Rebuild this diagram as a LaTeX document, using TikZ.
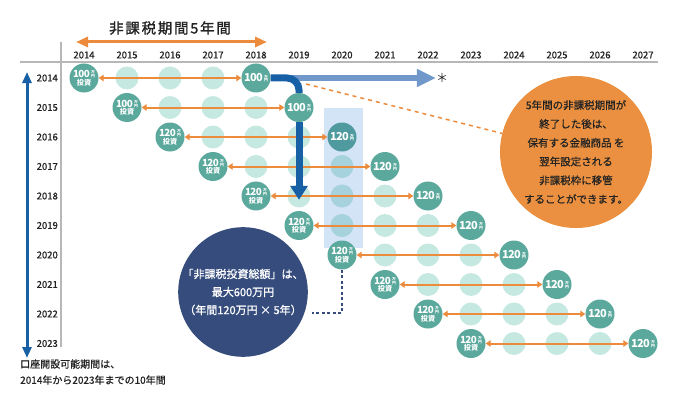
\documentclass[tikz,border=0pt]{standalone}
\usepackage{fontspec}
\setmainfont{Noto Sans CJK JP}
\usepackage{tikz}
\usetikzlibrary{arrows.meta}
\definecolor{tealdark}{RGB}{91,168,157}
\definecolor{teallight}{RGB}{197,232,224}
\definecolor{tintlight}{RGB}{166,210,222}
\definecolor{tintdark}{RGB}{78,154,158}
\definecolor{focusblue}{RGB}{211,228,247}
\definecolor{arroworange}{RGB}{237,139,61}
\definecolor{noteorange}{RGB}{234,144,64}
\definecolor{navyblue}{RGB}{53,76,124}
\definecolor{pathblue}{RGB}{24,96,166}
\definecolor{paleblue}{RGB}{112,152,202}
\definecolor{gridgray}{RGB}{183,183,183}
\definecolor{inkgray}{RGB}{35,35,35}

% stacked small units inside the coins
\newcommand{\stackc}[3][0pt]{\vbox{\offinterlineskip\halign{\hfil##\hfil\cr#2\cr\noalign{\kern#1}#3\cr}}}
\newcommand{\manyen}{{\fontsize{3.8}{3.8}\selectfont\stackc[.4pt]{万}{円}}}
\newcommand{\sumtxt}[1]{{\fontsize{11}{11}\selectfont\addfontfeature{LetterSpace=-6}#1}\kern1.4pt\manyen}
\newcommand{\buytxt}[1]{\stackc[1pt]{{\fontsize{9.8}{10}\selectfont\addfontfeature{LetterSpace=-6}#1}\kern1.4pt\manyen}{\fontsize{7.2}{7.2}\selectfont 投資}}

\tikzset{
  titletext/.style={font=\fontsize{14.5}{15}\selectfont\addfontfeature{LetterSpace=12,FakeBold=1.4}, text=inkgray},
  yearlabel/.style={font=\fontsize{9.5}{10}\selectfont\addfontfeature{FakeBold=0.8}, text=inkgray, inner sep=1pt},
  gridline/.style={draw=gridgray, line width=1.6pt},
  spanarrow/.style={draw=arroworange, line width=3pt, {Triangle[length=12pt,width=10pt]}-{Triangle[length=12pt,width=10pt]}},
  periodarrow/.style={draw=pathblue, line width=3pt, {Triangle[length=11pt,width=9pt]}-{Triangle[length=11pt,width=9pt]}},
  yeardot/.style={circle, inner sep=0pt, minimum size=23pt},
  coin/.style={circle, inner sep=0pt, minimum size=29pt, text=white, font=\bfseries},
  rowarrow/.style={draw=arroworange, line width=2pt, {Triangle[length=5pt,width=6.5pt]}-{Triangle[length=5pt,width=6.5pt]}},
  bluepath/.style={draw=pathblue, line width=7pt},
  palearrow/.style={draw=paleblue, line width=6pt, -{Triangle[length=19pt,width=17pt]}},
  notedash/.style={draw=arroworange, line width=1.5pt, dash pattern=on 4pt off 4pt},
  navydots/.style={draw=navyblue, line width=1.6pt, dash pattern=on 3pt off 2.5pt},
  notecircle/.style={circle, fill=noteorange, inner sep=0pt, minimum size=152pt, align=center, text=inkgray, font=\fontsize{10.5}{18.8}\selectfont\addfontfeature{FakeBold=0.6}},
  totalcircle/.style={circle, fill=navyblue, inner sep=0pt, minimum size=128pt, align=center, text=white, font=\fontsize{11}{18}\selectfont\addfontfeature{FakeBold=1}},
  notetext/.style={align=left, inner sep=0pt, text=inkgray, font=\fontsize{10}{16}\selectfont\addfontfeature{FakeBold=0.8}}
}

\begin{document}
\begin{tikzpicture}[x=1pt,y=-1pt]
\useasboundingbox (0,0) rectangle (680,404);

% Title over the five-year span
\node[titletext] (title) at (170,28) {非課税期間5年間};
\coordinate (spanL) at (76,42);
\coordinate (spanR) at (267,42);
\draw[spanarrow] (spanL) -- (spanR);

% Grid lines
\coordinate (hl) at (20,62);
\coordinate (hr) at (658,62);
\draw[gridline] (hl) -- (hr);
\coordinate (vt) at (61,42);
\coordinate (vb) at (61,347);
\draw[gridline] (vt) -- (vb);

% Year labels
\foreach \c in {0,...,13} {
  \node[yearlabel] (c\c) at (84+43*\c,55) {\the\numexpr2014+\c\relax};
}
\foreach \r in {0,...,9} {
  \node[yearlabel, anchor=east] (r\r) at (59,78+29.5*\r) {\the\numexpr2014+\r\relax};
}
\coordinate (at) at (27,72);
\coordinate (ab) at (27,358);
\draw[periodarrow] (at) -- (ab);

% Highlighted 2020 column
\fill[focusblue] (324,108) rectangle (363,248);

% One row per opening year
\foreach \r in {0,...,9} {
  \ifnum\r<2 \def\amt{100}\else\def\amt{120}\fi
  \foreach \k in {1,2,3} {
    \pgfmathtruncatemacro{\cc}{\r+\k}
    \ifnum\cc=6 \def\dotcol{tintlight}\else\def\dotcol{teallight}\fi
    \node[yeardot, fill=\dotcol] (l\r-\k) at (84+43*\cc,78+29.5*\r) {};
  }
  \ifnum\r=2 \def\endcol{tintdark}\else\def\endcol{tealdark}\fi
  \node[coin, fill=tealdark] (s\r) at (84+43*\r,78+29.5*\r) {\buytxt{\amt}};
  \node[coin, fill=\endcol] (e\r) at (256+43*\r,78+29.5*\r) {\sumtxt{\amt}};
  \draw[rowarrow] (s\r) -- (e\r);
}

% Roll-over path
\node[font=\fontsize{12}{12}\selectfont, text=inkgray, inner sep=0pt] (star) at (442,78) {＊};
\draw[palearrow] (e0.east) -- (star.west |- e0.east);
\draw[bluepath, rounded corners=12pt] (e0.east) -| (e1.north);
\draw[bluepath, -{Triangle[length=14pt,width=17pt]}, shorten >=11pt] (e1.south) -- (s5.north);

% Notes
\node[notecircle] (note) at (576,152) {5年間の非課税期間が\\終了した後は、\\保有する金融商品 を\\翌年設定される\\非課税枠に移管\\することができます。};
\coordinate (dashstart) at (306,84);
\draw[notedash] (dashstart) -- (note);

\node[totalcircle] (total) at (243,292) {「非課税投資総額」は、\\最大600万円\\（年間120万円 × 5年）};
\coordinate (dotend) at (312,313);
\draw[navydots] (s6.south) |- (dotend);

\node[notetext, anchor=west] (period) at (20,372) {口座開設可能期間は、\\2014年から2023年までの10年間};
\end{tikzpicture}
\end{document}
